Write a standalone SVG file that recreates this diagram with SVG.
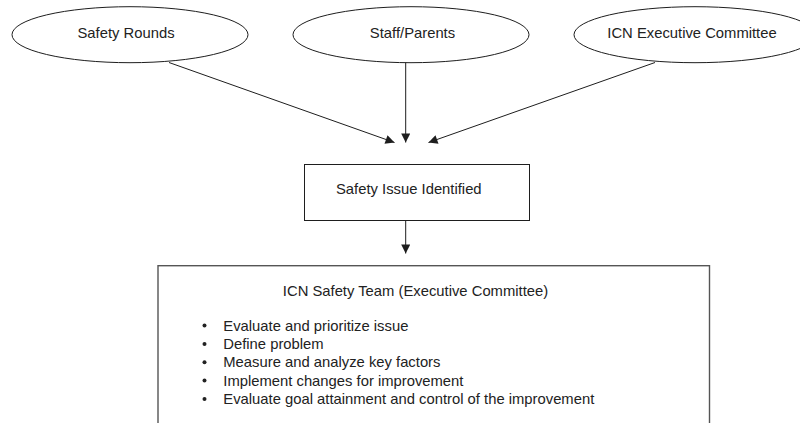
<svg xmlns="http://www.w3.org/2000/svg" width="800" height="423" viewBox="0 0 800 423">
  <style>
    .shape { fill: #ffffff; stroke: #1e1e1e; stroke-width: 1; }
    .panel { fill: #ffffff; stroke: #555555; stroke-width: 1.4; }
    .label { font-family: "Liberation Sans", Arial, sans-serif; font-size: 14.8px; fill: #222222; }
    .mid { text-anchor: middle; }
    .edge { stroke: #1e1e1e; stroke-width: 1; fill: none; marker-end: url(#arrow); }
  </style>
  <defs>
    <marker id="arrow" viewBox="0 0 10 10" refX="10" refY="5" markerWidth="10" markerHeight="9" markerUnits="userSpaceOnUse" orient="auto">
      <path d="M0,0 L10,5 L0,10 Z" fill="#1e1e1e"/>
    </marker>
  </defs>
  <rect width="800" height="423" fill="#ffffff"/>

  <g id="safety-rounds">
    <ellipse class="shape" cx="130" cy="34.7" rx="118" ry="28"/>
    <text class="label mid" x="126" y="37.5">Safety Rounds</text>
  </g>

  <g id="staff-parents">
    <ellipse class="shape" cx="411" cy="34.7" rx="118" ry="28"/>
    <text class="label mid" x="412.5" y="37.5">Staff/Parents</text>
  </g>

  <g id="icn-executive-committee">
    <ellipse class="shape" cx="695" cy="34.7" rx="121" ry="28"/>
    <text class="label mid" x="692" y="37.5">ICN Executive Committee</text>
  </g>

  <g id="safety-issue">
    <rect class="shape" x="304.5" y="164.5" width="225" height="56"/>
    <text class="label" x="336" y="194">Safety Issue Identified</text>
  </g>

  <g id="safety-team">
    <rect class="panel" x="158" y="265.7" width="551.5" height="170"/>
    <text class="label mid" x="415.5" y="296">ICN Safety Team (Executive Committee)</text>
    <g class="label">
      <circle cx="204.5" cy="325.5" r="2" fill="#222222"/>
      <text class="label" x="223.3" y="330.5">Evaluate and prioritize issue</text>
      <circle cx="204.5" cy="344" r="2" fill="#222222"/>
      <text class="label" x="223.3" y="349">Define problem</text>
      <circle cx="204.5" cy="362.3" r="2" fill="#222222"/>
      <text class="label" x="223.3" y="367.3">Measure and analyze key factors</text>
      <circle cx="204.5" cy="380.6" r="2" fill="#222222"/>
      <text class="label" x="223.3" y="385.6">Implement changes for improvement</text>
      <circle cx="204.5" cy="398.9" r="2" fill="#222222"/>
      <text class="label" x="223.3" y="403.9">Evaluate goal attainment and control of the improvement</text>
    </g>
  </g>

  <g id="connectors">
    <line class="edge" x1="169" y1="62.5" x2="394.5" y2="142.5"/>
    <line class="edge" x1="405.7" y1="62.7" x2="405.7" y2="142.5"/>
    <line class="edge" x1="655" y1="62.5" x2="428.5" y2="142.5"/>
    <line class="edge" x1="405.7" y1="221" x2="405.7" y2="253.5"/>
  </g>
</svg>
